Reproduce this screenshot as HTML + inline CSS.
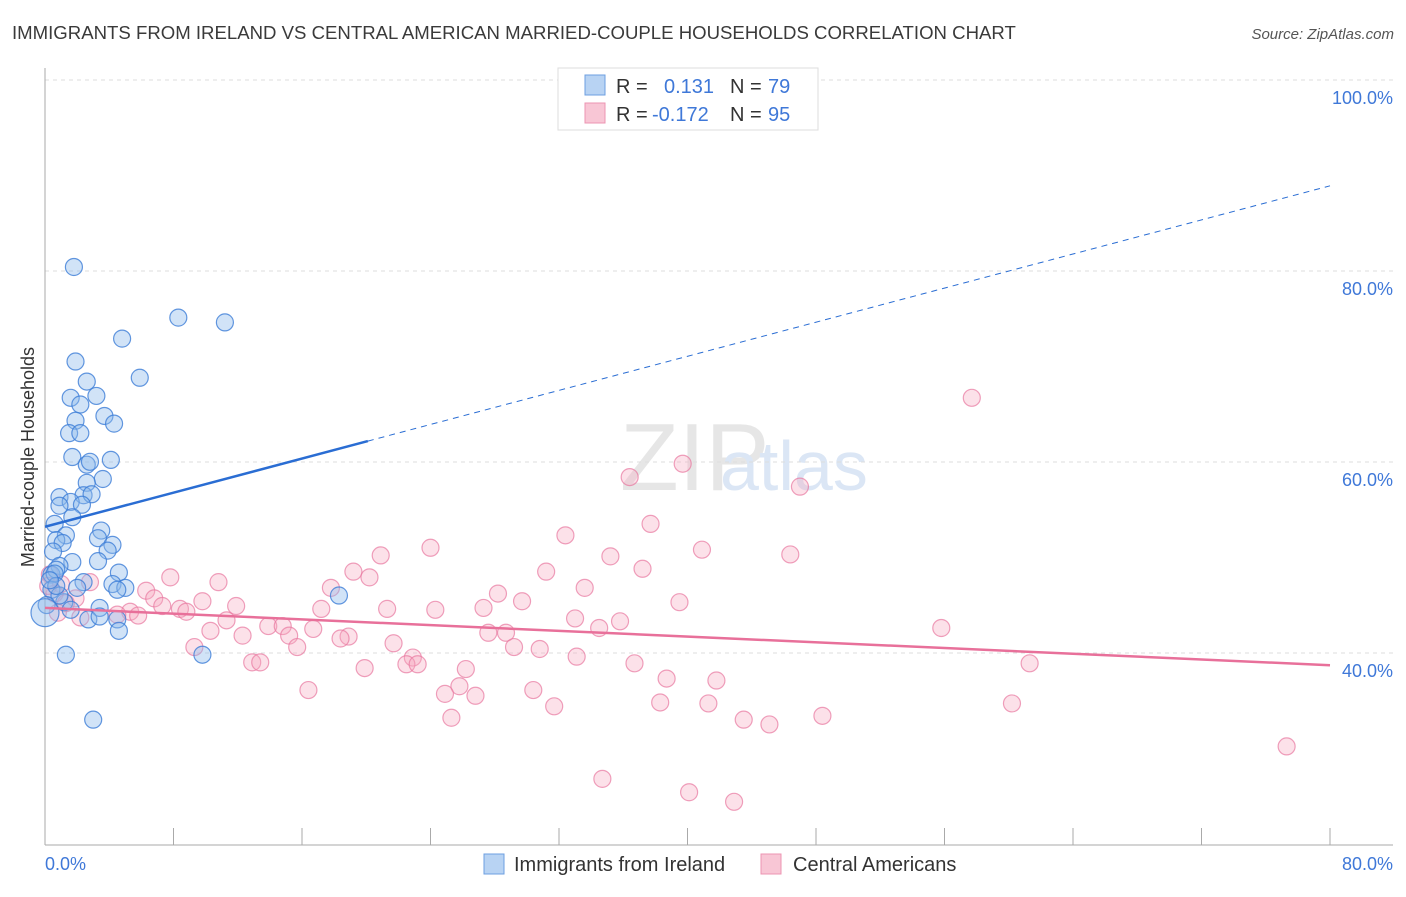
<!DOCTYPE html>
<html><head><meta charset="utf-8"><style>
body{margin:0;background:#fff;font-family:"Liberation Sans",sans-serif;}
svg text{font-family:"Liberation Sans",sans-serif;}
</style></head><body>
<svg id="chart" width="1406" height="892">
<text x="12" y="39" font-size="18.6" fill="#3a3a3a">IMMIGRANTS FROM IRELAND VS CENTRAL AMERICAN MARRIED-COUPLE HOUSEHOLDS CORRELATION CHART</text>
<text x="1394" y="39" font-size="15" fill="#555" font-style="italic" text-anchor="end">Source: ZipAtlas.com</text>
<text x="620" y="490" font-size="96" fill="#e6e6e6" font-family="Liberation Serif">ZIP</text>
<text x="720" y="490" font-size="70" fill="#dbe6f5">atlas</text>
<g id="grid"></g>
<g id="axes"></g>
<g id="points"></g>
<g id="trends"></g>
<text transform="translate(34,457) rotate(-90)" font-size="18" fill="#333" text-anchor="middle">Married-couple Households</text>
<g>
<rect x="558" y="68" width="260" height="62" fill="#fff" stroke="#ddd"/>
<rect x="585" y="75" width="20" height="20" fill="#b8d3f3" stroke="#6d9fe0"/>
<rect x="585" y="103" width="20" height="20" fill="#f8c6d5" stroke="#ec94b2"/>
<text x="616" y="93" font-size="20" fill="#333">R = </text><text x="664" y="93" font-size="20" fill="#3f78d8">0.131</text>
<text x="730" y="93" font-size="20" fill="#333">N = </text><text x="768" y="93" font-size="20" fill="#3f78d8">79</text>
<text x="616" y="121" font-size="20" fill="#333">R = </text><text x="652" y="121" font-size="20" fill="#3f78d8">-0.172</text>
<text x="730" y="121" font-size="20" fill="#333">N = </text><text x="768" y="121" font-size="20" fill="#3f78d8">95</text>
</g>
<g>
<rect x="484" y="854" width="20" height="20" fill="#b8d3f3" stroke="#6d9fe0"/>
<text x="514" y="871" font-size="20" fill="#333">Immigrants from Ireland</text>
<rect x="761" y="854" width="20" height="20" fill="#f8c6d5" stroke="#ec94b2"/>
<text x="793" y="871" font-size="20" fill="#333">Central Americans</text>
</g>
</svg>
<script>
const blueX=[1.8,8.3,11.2,4.8,1.9,5.9,2.6,3.2,1.6,2.2,3.7,1.9,4.3,1.5,2.2,4.1,1.7,2.6,2.8,3.6,2.6,0.9,2.4,2.9,1.6,2.3,0.9,1.7,0.6,3.5,1.3,3.3,0.7,4.2,1.1,3.9,0.5,3.3,1.7,0.9,0.4,0.7,4.6,4.2,2.4,5.0,2.0,0.6,0.4,4.5,1.2,3.4,2.7,4.5,4.6,18.3,9.8,1.3,3.0,0.9,1.6,0.1,0.7,0.3,3.4,0.0];
const blueY=[82.2,76.9,76.4,74.7,72.3,70.6,70.2,68.7,68.5,67.8,66.6,66.1,65.8,64.8,64.8,62.0,62.3,61.5,61.8,60.0,59.6,58.1,58.3,58.4,57.6,57.3,57.2,56.0,55.3,54.6,54.1,53.8,53.6,53.1,53.3,52.5,52.4,51.4,51.3,50.9,50.0,50.5,50.2,49.0,49.2,48.6,48.6,50.1,48.4,48.4,47.1,46.5,45.3,45.3,44.1,47.8,41.6,41.6,34.8,47.8,46.3,46.8,48.8,49.4,45.6,46.0];
const pinkX=[57.7,39.7,36.4,47.0,37.7,32.4,24.0,40.9,20.9,35.2,46.4,37.2,31.2,19.2,20.2,7.8,10.8,33.6,17.8,28.2,6.3,6.8,39.5,29.7,7.3,9.8,11.9,8.4,21.3,24.3,27.3,17.2,8.8,5.3,4.5,5.8,11.3,33.0,35.8,13.9,14.8,34.5,10.3,16.7,27.6,28.7,12.3,15.2,18.9,18.4,55.8,21.7,29.2,30.8,15.7,9.3,33.1,22.9,36.7,12.9,13.4,22.5,23.2,19.9,26.2,61.3,38.7,41.8,25.8,16.4,24.9,26.8,30.4,38.3,41.3,60.2,31.7,48.4,25.3,43.5,45.1,77.3,34.7,40.1,42.9,0.3,1.0,0.6,1.9,2.2,0.2,1.3,0.8,2.8];
const pinkY=[68.5,61.6,60.2,59.2,55.3,54.1,52.8,52.6,52.0,51.9,52.1,50.6,50.3,50.3,49.7,49.7,49.2,48.6,48.6,48.0,48.3,47.5,47.1,47.2,46.7,47.2,46.7,46.4,46.4,46.3,46.5,46.4,46.1,46.1,45.8,45.7,45.2,45.4,45.1,44.6,44.6,44.4,44.1,44.3,43.9,43.9,43.6,43.6,43.5,43.3,44.4,42.8,42.4,42.2,42.4,42.4,41.4,41.3,40.7,40.8,40.8,40.6,40.6,40.2,40.1,40.7,39.1,38.9,38.3,37.9,37.5,37.3,37.9,36.6,36.5,36.5,36.2,35.2,35.0,34.8,34.3,32.0,28.6,27.2,26.2,50.0,49.0,48.0,47.5,45.5,48.8,47.0,46.0,49.2];
const yTicks=[40,60,80,100];
const yTickLabels=["40.0%","60.0%","80.0%","100.0%"];
const xTicks=[0,80];
const xTickLabels=["0.0%","80.0%"];
const blueTrend=[55.0,90.7];
const pinkTrend=[46.5,40.5];
const NS='http://www.w3.org/2000/svg';
const xs=v=>45+v/80*1285;
const ys=v=>97+(100-v)*9.55;
function mk(t,a,p){const e=document.createElementNS(NS,t);for(const k in a)e.setAttribute(k,a[k]);p.appendChild(e);return e;}
const grid=document.getElementById('grid'),axes=document.getElementById('axes'),pts=document.getElementById('points'),tr=document.getElementById('trends');
yTicks.forEach((v,i)=>{
 const l=mk('line',{x1:45,x2:1393,y1:ys(v)-17,y2:ys(v)-17,stroke:'#ddd','stroke-dasharray':'4,4'},grid);
 
 
 const t=mk('text',{x:1393,y:ys(v)+7,'font-size':18,fill:'#3f78d8','text-anchor':'end'},axes);
 t.textContent=yTickLabels[i];
 
 
});
const ax=mk('line',{x1:45,x2:45,y1:68,y2:845,stroke:'#aaa'},axes);


const bx=mk('line',{x1:45,x2:1393,y1:845,y2:845,stroke:'#aaa'},axes);


for(let i=0;i<=10;i++){const x=45+i*128.5;const tk=mk('line',{x1:x,x2:x,y1:828,y2:845,stroke:'#aaa'},axes);
 
 }
xTicks.forEach((v,i)=>{const t=mk('text',{x:i==0?45:1393,y:870,'font-size':18,fill:'#3f78d8','text-anchor':i==0?'start':'end'},axes);
 t.textContent=xTickLabels[i];
 
 });
pinkX.forEach((v,i)=>{const c=mk('circle',{cx:xs(v),cy:ys(pinkY[i]),r:8.5,fill:'rgba(246,168,192,0.35)',stroke:'rgba(232,120,160,0.7)','stroke-width':1.2},pts);
 
 });
blueX.forEach((v,i)=>{const c=mk('circle',{cx:xs(v),cy:ys(blueY[i]),r:i==blueX.length-1?14:8.5,fill:'rgba(140,185,235,0.4)',stroke:'rgba(60,125,215,0.8)','stroke-width':1.2},pts);
 
 });
const bAt=x=>blueTrend[0]+(blueTrend[1]-blueTrend[0])*x/80;
const b1=mk('line',{x1:xs(0),y1:ys(bAt(0)),x2:xs(20.1),y2:ys(bAt(20.1)),stroke:'#2a6dd3','stroke-width':2.5},tr);


const b2=mk('line',{x1:xs(20.1),y1:ys(bAt(20.1)),x2:xs(80),y2:ys(bAt(80)),stroke:'#2a6dd3','stroke-width':1,'stroke-dasharray':'6,5'},tr);


const p1=mk('line',{x1:xs(0),y1:ys(pinkTrend[0]),x2:xs(80),y2:ys(pinkTrend[1]),stroke:'#e8709a','stroke-width':2.5},tr);


</script>
</body></html>
